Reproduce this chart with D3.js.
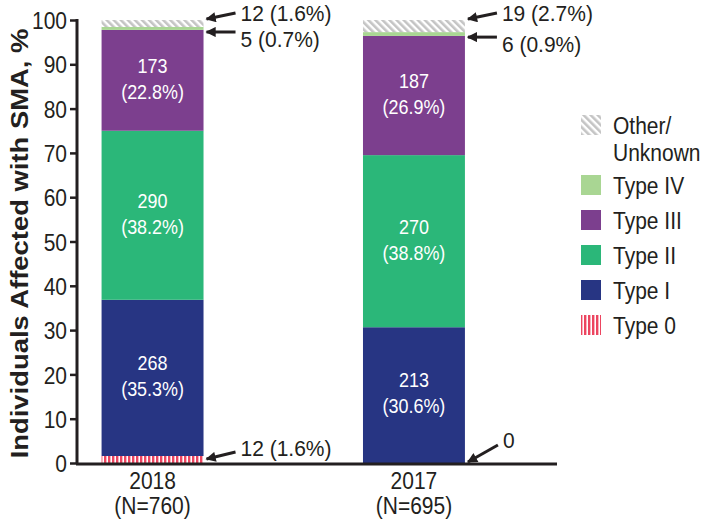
<!DOCTYPE html>
<html>
<head>
<meta charset="utf-8">
<script src="https://cdn.jsdelivr.net/npm/d3@7"></script>
<style>
  html, body { margin: 0; padding: 0; background: #fff; }
  svg { display: block; font-family: "Liberation Sans", Arial, sans-serif; }
</style>
</head>
<body>
<svg id="chart" width="703" height="523"></svg>
<script>
// ---- data ----
const years = ["2018", "2017"];
const totals = [760, 695];
const types = ["Type 0", "Type I", "Type II", "Type III", "Type IV", "Other/Unknown"];
const counts2018 = [12, 268, 290, 173, 5, 12];
const counts2017 = [0, 213, 270, 187, 6, 19];
const pctLabels2018 = ["1.6%", "35.3%", "38.2%", "22.8%", "0.7%", "1.6%"];
const pctLabels2017 = ["0", "30.6%", "38.8%", "26.9%", "0.9%", "2.7%"];
const yTicks = [0, 10, 20, 30, 40, 50, 60, 70, 80, 90, 100];
const legendOrder = ["Other/Unknown", "Type IV", "Type III", "Type II", "Type I", "Type 0"];

const colors = {
  "Type 0": "#ec4560",
  "Type I": "#273583",
  "Type II": "#2bb779",
  "Type III": "#7c3f8e",
  "Type IV": "#a9d693",
  "Other/Unknown": "#c4c4c4"
};

const svg = d3.select("#chart");
const textColor = "#231f20";
const SX = 0.875;          // horizontal glyph compression
const FS = 24;             // main font size
const CAPC = 0.358;        // baseline offset from visual center (em)

function txt(parent, x, yc, str, opts = {}) {
  const size = opts.size || FS;
  const sx = opts.sx || SX;
  const g = parent.append("g").attr("transform", `translate(${x},${yc + CAPC * size}) scale(${sx},1)`);
  return g.append("text").attr("x", 0).attr("y", 0)
    .attr("font-size", size).attr("fill", opts.color || textColor)
    .attr("text-anchor", opts.anchor || "start").text(str);
}

// patterns
const defs = svg.append("defs");
const p0 = defs.append("pattern").attr("id", "pat0").attr("patternUnits", "userSpaceOnUse")
  .attr("width", 4).attr("height", 4);
p0.append("rect").attr("width", 4).attr("height", 4).attr("fill", "#fff");
p0.append("rect").attr("x", 0).attr("width", 2.4).attr("height", 4).attr("fill", colors["Type 0"]);

const pO = defs.append("pattern").attr("id", "patO").attr("patternUnits", "userSpaceOnUse")
  .attr("width", 5).attr("height", 5).attr("patternTransform", "rotate(-45)");
pO.append("rect").attr("width", 5).attr("height", 5).attr("fill", "#fff");
pO.append("rect").attr("x", 0).attr("width", 2.6).attr("height", 5).attr("fill", colors["Other/Unknown"]);

const fillFor = t => t === "Type 0" ? "url(#pat0)" : (t === "Other/Unknown" ? "url(#patO)" : colors[t]);

// scales
const y = d3.scaleLinear().domain([0, 100]).range([463, 20]);
const x = d3.scaleBand().domain(years).range([77, 489.5]).paddingInner(0.61).paddingOuter(0.094);

// stacked data
const rows = years.map((yr, i) => {
  const c = i === 0 ? counts2018 : counts2017;
  const pl = i === 0 ? pctLabels2018 : pctLabels2017;
  let acc = 0;
  return types.map((t, j) => {
    const v = c[j] / totals[i] * 100;
    const seg = { year: yr, type: t, count: c[j], pct: pl[j], y0: acc, y1: acc + v };
    acc += v;
    return seg;
  });
});

// bars
const g = svg.append("g");
rows.forEach(r => {
  g.selectAll(null).data(r.filter(d => d.count > 0)).enter().append("rect")
    .attr("x", d => x(d.year))
    .attr("width", x.bandwidth())
    .attr("y", d => y(d.y1))
    .attr("height", d => y(d.y0) - y(d.y1))
    .attr("fill", d => fillFor(d.type));
});

// inner labels
const inner = ["Type I", "Type II", "Type III"];
rows.forEach(r => {
  r.filter(d => inner.includes(d.type)).forEach(d => {
    const cx = x(d.year) + x.bandwidth() / 2;
    const cy = y((d.y0 + d.y1) / 2);
    txt(g, cx, cy - 15, d.count, { size: 20.5, color: "#fff", anchor: "middle" });
    txt(g, cx, cy + 11, "(" + d.pct + ")", { size: 20.5, color: "#fff", anchor: "middle" });
  });
});

// axes
const yAxis = svg.append("g").attr("transform", "translate(77,0)")
  .call(d3.axisLeft(y).tickValues(yTicks).tickSize(7).tickPadding(3));
yAxis.select(".domain").attr("stroke", textColor).attr("stroke-width", 3)
  .attr("d", `M0,${y(100) - 1}V${y(0)}`);
yAxis.selectAll(".tick line").attr("stroke", textColor).attr("stroke-width", 2.5);
yAxis.selectAll(".tick text").attr("fill", textColor).attr("font-size", FS)
  .attr("font-family", "Liberation Sans, Arial, sans-serif")
  .attr("x", -10 / SX).attr("dy", "0.36em")
  .attr("transform", `scale(${SX},1)`);

svg.append("line").attr("x1", 76).attr("x2", 557).attr("y1", y(0) + 1).attr("y2", y(0) + 1)
  .attr("stroke", textColor).attr("stroke-width", 3);

// x labels
years.forEach((yr, i) => {
  const cx = x(yr) + x.bandwidth() / 2;
  txt(svg, cx, 480, yr, { anchor: "middle" });
  txt(svg, cx, 505, "(N=" + totals[i] + ")", { anchor: "middle" });
});

// y title
svg.append("text")
  .attr("transform", `translate(28,${(y(0) + y(100)) / 2 + 2}) rotate(-90) scale(1,${SX})`)
  .attr("text-anchor", "middle").attr("font-weight", "bold").attr("font-size", 27.4)
  .attr("fill", textColor).text("Individuals Affected with SMA, %");

// annotations with arrows
defs.append("marker").attr("id", "arr").attr("viewBox", "0 0 10 10").attr("refX", 9).attr("refY", 5)
  .attr("markerWidth", 3.6).attr("markerHeight", 3.4).attr("orient", "auto")
  .append("path").attr("d", "M0,0L10,5L0,10z").attr("fill", textColor);

const AFS = 22.5;
function annotate(seg, label, tipY, dx, dy, textY) {
  const xr = x(seg.year) + x.bandwidth() + 3;
  const tx = xr + dx, ty = tipY + dy;
  svg.append("line").attr("x1", tx).attr("y1", ty).attr("x2", xr).attr("y2", tipY)
    .attr("stroke", textColor).attr("stroke-width", 3).attr("marker-end", "url(#arr)");
  txt(svg, tx + 5, textY, label, { size: AFS, sx: 21 / AFS });
}

rows.forEach((r, i) => {
  const other = r.find(d => d.type === "Other/Unknown");
  const t4 = r.find(d => d.type === "Type IV");
  const t0 = r.find(d => d.type === "Type 0");
  const tipO = y(other.y1) - 1;
  annotate(other, other.count + " (" + other.pct + ")", tipO, 29, -6, tipO - 6);
  const tip4 = y(t4.y1) + 5;
  annotate(t4, t4.count + " (" + t4.pct + ")", tip4, 29, 0, tip4 + 7);
  if (t0.count > 0) {
    const tip0 = y(0) - 4;
    annotate(t0, t0.count + " (" + t0.pct + ")", tip0, 29, -7, tip0 - 11);
  } else {
    const tip0 = y(0) - 1;
    annotate(t0, "0", tip0, 30, -17, tip0 - 22);
  }
});

// legend
const lg = svg.append("g");
legendOrder.forEach((t, i) => {
  const cy = i === 0 ? 125 : 185 + (i - 1) * 35;
  lg.append("rect").attr("x", 581).attr("y", cy - 10).attr("width", 20).attr("height", 20)
    .attr("fill", fillFor(t));
  if (t === "Other/Unknown") {
    txt(lg, 613, cy, "Other/");
    txt(lg, 613, cy + 27, "Unknown");
  } else {
    txt(lg, 613, cy, t);
  }
});
</script>
</body>
</html>
